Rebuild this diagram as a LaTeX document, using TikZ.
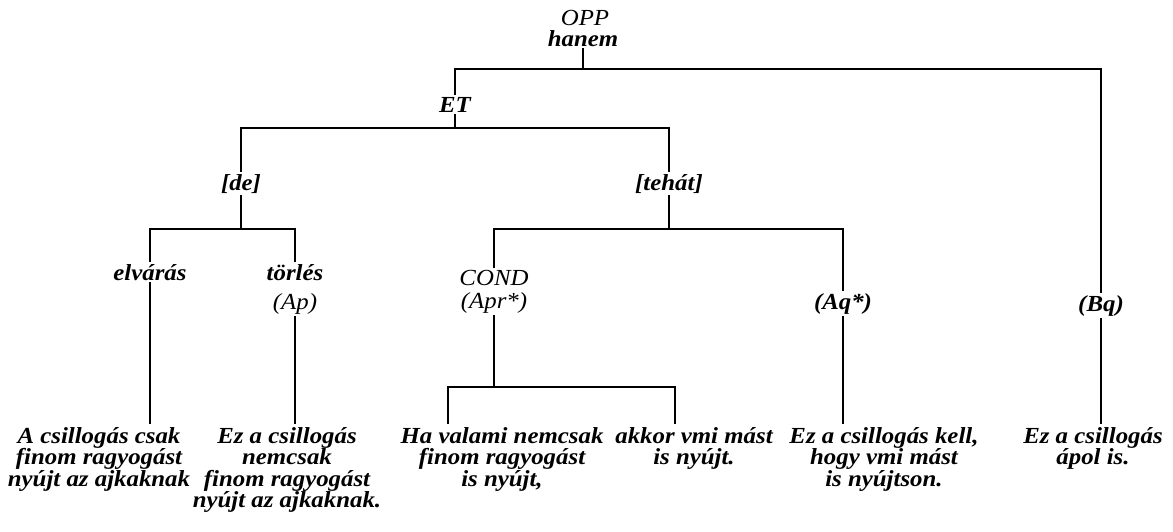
\documentclass[tikz,border=0pt]{standalone}
\usepackage{fontspec}
\setmainfont{Liberation Serif}[FakeStretch=1.08]
\usepackage{tikz}
\usetikzlibrary{calc}

\newcommand{\treefont}{\fontsize{23}{21.5}\selectfont}

\tikzset{
  lbl/.style={font=\treefont\bfseries\itshape, inner sep=2pt, anchor=base},
  lbllight/.style={font=\treefont\itshape, inner sep=2pt, anchor=base},
  leaf/.style={font=\treefont\bfseries\itshape, align=center, anchor=north, inner sep=3pt},
  branch/.style={line width=2.6pt}
}

\begin{document}
\begin{tikzpicture}[x=1pt,y=-1pt]

\useasboundingbox (0,0) rectangle (1173,531);

% Define the bar coordinates
\coordinate (oppbar) at (583,69);
\coordinate (etbar) at (455,128);
\coordinate (debar) at (241,229);
\coordinate (tehatbar) at (669,229);
\coordinate (condL) at (448,387);
\coordinate (condR) at (675,387);

% Draw the labels
\node[lbllight] (opp) at (585,25) {OPP};
\node[lbl] (hanem) at (583,46) {hanem};
\node[lbl] (et) at (455,112) {ET};
\node[lbl] (de) at (241,190) {[de]};
\node[lbl] (tehat) at (669,190) {[tehát]};
\node[lbl] (elv) at (150,280) {elvárás};
\node[lbl] (torles) at (295,280) {törlés};
\node[lbllight] (ap) at (295,309) {(Ap)};
\node[lbllight] (cond) at (494,285) {COND};
\node[lbllight] (apr) at (494,308) {(Apr*)};
\node[lbl] (aq) at (843,309) {(Aq*)};
\node[lbl] (bq) at (1101,311) {(Bq)};

% Draw the leaves
\node[leaf] (t1) at (99,424) {A csillogás csak\\finom ragyogást\\nyújt az ajkaknak};
\node[leaf] (t2) at (287,424) {Ez a csillogás\\nemcsak\\finom ragyogást\\nyújt az ajkaknak.};
\node[leaf] (t3) at (502,424) {Ha valami nemcsak\\finom ragyogást\\is nyújt,};
\node[leaf] (t4) at (694,424) {akkor vmi mást\\is nyújt.};
\node[leaf] (t5) at (884,424) {Ez a csillogás kell,\\hogy vmi mást\\is nyújtson.};
\node[leaf] (t6) at (1093,424) {Ez a csillogás\\ápol is.};

% Draw the tree
\draw[branch] (hanem.south) -- (oppbar);
\draw[branch] (et.north) |- (oppbar) -| (bq.north);
\draw[branch] (et.south) -- (etbar);
\draw[branch] (de.north) |- (etbar) -| (tehat.north);
\draw[branch] (de.south) -- (debar);
\draw[branch] (elv.north) |- (debar) -| (torles.north);
\draw[branch] (tehat.south) -- (tehatbar);
\draw[branch] (cond.north) |- (tehatbar) -| (aq.north);
\draw[branch] (apr.south) -- (apr.south |- condL);
\draw[branch] (condL |- t3.north) -- (condL) -- (condR) -- (condR |- t4.north);

% Draw the legs
\draw[branch] (elv.south) -- (elv.south |- t1.north);
\draw[branch] (ap.south) -- (ap.south |- t2.north);
\draw[branch] (aq.south) -- (aq.south |- t5.north);
\draw[branch] (bq.south) -- (bq.south |- t6.north);

\end{tikzpicture}
\end{document}
